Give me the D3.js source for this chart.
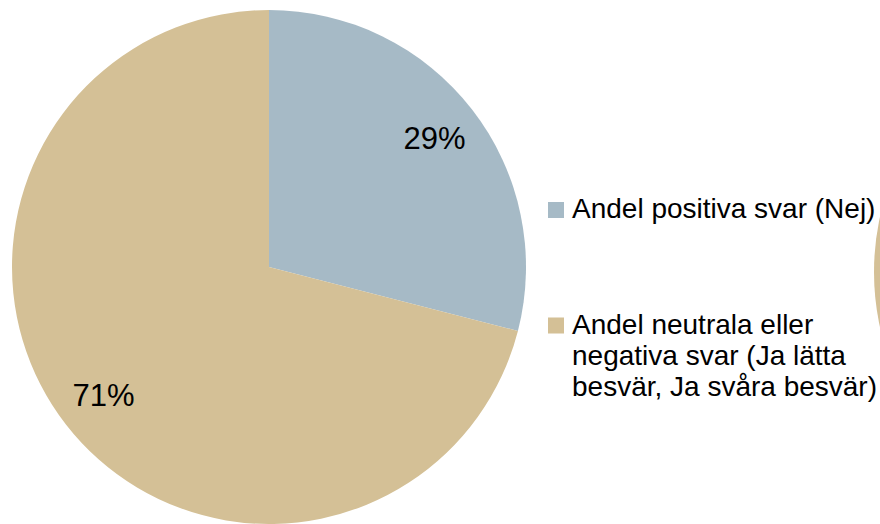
<!DOCTYPE html>
<html><head><meta charset="utf-8">
<script src="https://cdn.jsdelivr.net/npm/d3@7"></script>
<style>html,body{margin:0;padding:0;background:#fff;overflow:hidden}</style>
</head><body>
<svg id="chart" width="880" height="524"></svg>
<script>
const categories = ["Andel positiva svar (Nej)", "Andel neutrala eller negativa svar (Ja lätta besvär, Ja svåra besvär)"];
const values = [29, 71];
const valueLabels = ["29%", "71%"];
const legendLines = [["Andel positiva svar (Nej)"], ["Andel neutrala eller", "negativa svar (Ja lätta", "besvär, Ja svåra besvär)"]];
const colors = ["#A6BAC6", "#D4C096"];

const svg = d3.select("#chart");
const cx = 269, cy = 267, r = 257;
const color = d3.scaleOrdinal().domain(categories).range(colors);
const pie = d3.pie().sort(null).value(d => d.v);
const data = categories.map((c, i) => ({c, v: values[i], label: valueLabels[i]}));
const arcs = pie(data);
const arc = d3.arc().innerRadius(0).outerRadius(r);

const g = svg.append("g").attr("transform", `translate(${cx},${cy})`);
g.selectAll("path").data(arcs).enter().append("path")
  .attr("d", arc).attr("fill", d => color(d.data.c));

const labelArc = d3.arc().innerRadius(r * 0.815).outerRadius(r * 0.815);
g.selectAll("text").data(arcs).enter().append("text")
  .attr("transform", d => `translate(${labelArc.centroid(d)})`)
  .attr("text-anchor", "middle").attr("dominant-baseline", "central")
  .attr("font-family", "Liberation Sans, Arial, sans-serif").attr("font-size", 31)
  .attr("fill", "#000").text(d => d.data.label);

// partially visible neighbouring pie at right edge
const g2 = svg.append("g").attr("transform", `translate(${874 + r},${cy + 5})`);
g2.append("path").attr("d", d3.arc().innerRadius(0).outerRadius(r)({startAngle: 0, endAngle: 2 * Math.PI}))
  .attr("fill", colors[1]);

// legend
const legendY = [210, 325.5];
const lg = svg.append("g");
categories.forEach((c, i) => {
  lg.append("rect").attr("x", 548).attr("y", legendY[i] - 8).attr("width", 16).attr("height", 16)
    .attr("fill", color(c));
  const t = lg.append("text").attr("x", 572).attr("y", legendY[i] + 8)
    .attr("font-family", "Liberation Sans, Arial, sans-serif").attr("font-size", 28).attr("fill", "#000");
  legendLines[i].forEach((line, j) => {
    t.append("tspan").attr("x", 572).attr("dy", j === 0 ? 0 : 31).text(line);
  });
});
</script>
</body></html>
